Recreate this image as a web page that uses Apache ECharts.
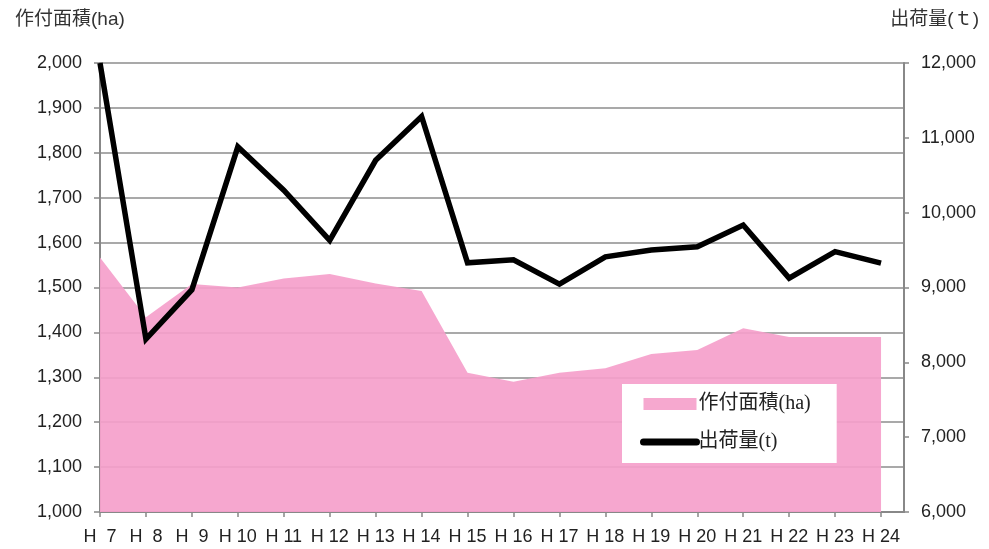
<!DOCTYPE html>
<html>
<head>
<meta charset="utf-8">
<script src="https://cdn.jsdelivr.net/npm/echarts@6/dist/echarts.min.js"></script>
<style>
  html, body { margin: 0; padding: 0; background: #fff; }
  #chart { width: 989px; height: 549px; }
</style>
</head>
<body>
<div id="chart"></div>
<script>
const years = ["H  7", "H  8", "H  9", "H 10", "H 11", "H 12", "H 13", "H 14", "H 15",
               "H 16", "H 17", "H 18", "H 19", "H 20", "H 21", "H 22", "H 23", "H 24"];
// 作付面積 (ha)
const area = [1567, 1434, 1508, 1500, 1520, 1530, 1509, 1492, 1310,
              1290, 1310, 1320, 1352, 1361, 1409, 1390, 1390, 1390];
// 出荷量 (t)
const shipped = [12000, 8310, 8970, 10880, 10300, 9630, 10700, 11285, 9330,
                 9370, 9045, 9410, 9500, 9545, 9835, 9125, 9480, 9325];

const areaName = "作付面積(ha)";
const shipName = "出荷量(t)";
const font = "'Liberation Sans', 'Noto Sans CJK JP', sans-serif";
const legendFont = "'Liberation Serif', 'Noto Sans CJK JP', serif";
const fmt = v => v.toLocaleString("en-US");
const tickIdx = years.map((_, i) => i);

const chart = echarts.init(document.getElementById("chart"), null, { renderer: "canvas" });

chart.setOption({
  animation: false,
  textStyle: { fontFamily: font },
  title: [
    { text: "作付面積(ha)", left: 10, top: 5,
      textStyle: { fontSize: 19, fontWeight: "normal", color: "#333", fontFamily: font } },
    { text: "出荷量(ｔ)", right: 5, top: 5,
      textStyle: { fontSize: 19, fontWeight: "normal", color: "#333", fontFamily: font } }
  ],
  grid: { left: 100, right: 85, top: 63, bottom: 37 },
  legend: {
    orient: "vertical",
    left: 622, top: 384,
    padding: [10, 26, 11, 18],
    backgroundColor: "#fff",
    itemWidth: 53, itemHeight: 12, itemGap: 18,
    textStyle: { fontSize: 20, color: "#222", fontFamily: legendFont, padding: [0, 0, 0, -3] },
    data: [
      { name: areaName, icon: "rect" },
      { name: shipName, lineStyle: { width: 7, cap: "round" }, itemStyle: { opacity: 0 } }
    ]
  },
  xAxis: {
    type: "value", min: 0, max: 17.5,
    axisLine: { lineStyle: { color: "#888", width: 2 } },
    axisTick: { show: true, length: 5, customValues: tickIdx, lineStyle: { color: "#888", width: 1.5 } },
    axisLabel: {
      customValues: tickIdx, margin: 16, fontSize: 18, color: "#222",
      formatter: v => years[v] ?? ""
    },
    splitLine: { show: false }
  },
  yAxis: [
    {
      type: "value", min: 1000, max: 2000, interval: 100,
      axisLine: { show: true, lineStyle: { color: "#888", width: 2 } },
      axisTick: { show: true, length: 6, lineStyle: { color: "#888", width: 1.5 } },
      axisLabel: { fontSize: 18, color: "#222", margin: 18, formatter: fmt },
      splitLine: { lineStyle: { color: "#8c8c8c", width: 1.5 } }
    },
    {
      type: "value", min: 6000, max: 12000, interval: 1000,
      axisLine: { show: true, lineStyle: { color: "#888", width: 2 } },
      axisTick: { show: true, length: 5, lineStyle: { color: "#888", width: 1.5 } },
      axisLabel: { fontSize: 18, color: "#222", margin: 17, formatter: fmt },
      splitLine: { show: false }
    }
  ],
  series: [
    {
      name: areaName,
      type: "line",
      yAxisIndex: 0,
      data: area.map((v, i) => [i, v]),
      showSymbol: false, symbol: "none",
      lineStyle: { width: 0 },
      itemStyle: { color: "#F6A8CF" },
      areaStyle: { color: "#F5A0CB", opacity: 0.93 },
      z: 1
    },
    {
      name: shipName,
      type: "line",
      yAxisIndex: 1,
      data: shipped.map((v, i) => [i, v]),
      showSymbol: false, symbol: "none",
      itemStyle: { color: "#000" },
      lineStyle: { color: "#000", width: 5.5, join: "miter", cap: "butt" },
      z: 3
    }
  ]
});
</script>
</body>
</html>
